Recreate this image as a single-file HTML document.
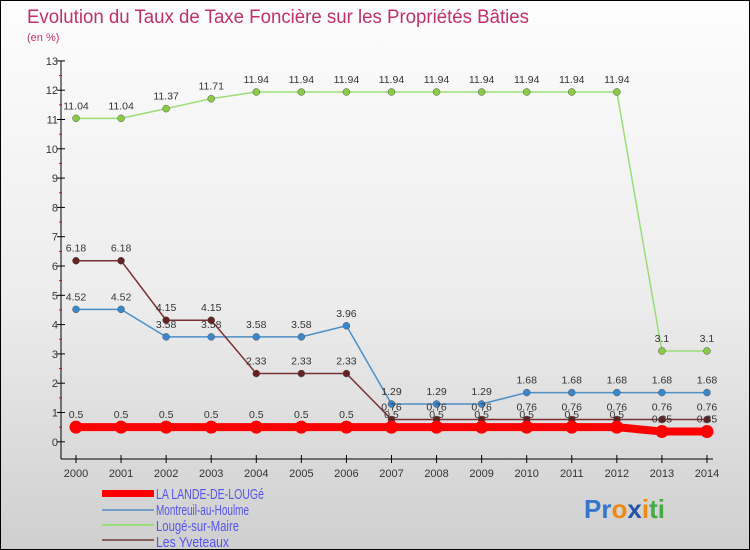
<!DOCTYPE html>
<html><head><meta charset="utf-8"><style>
body{margin:0}
#c{width:748px;height:548px;border:1px solid #000;background:linear-gradient(#fdfdfd 0%,#ececec 55%,#cfcfcf 100%);position:relative;font-family:"Liberation Sans",sans-serif;overflow:hidden}
</style></head><body>
<div id="c">
<svg width="748" height="548" id="svg">
<text x="26" y="22" font-size="19" fill="#c0306a" textLength="502" lengthAdjust="spacingAndGlyphs">Evolution du Taux de Taxe Foncière sur les Propriétés Bâties</text>
<text x="26" y="40" font-size="11" fill="#c0306a">(en %)</text>
<g id="g"></g>
<g>
<rect x="101" y="489" width="52" height="7" fill="#f00"/>
<text x="155" y="498" font-size="15" fill="#5555ee" textLength="108" lengthAdjust="spacingAndGlyphs">LA LANDE-DE-LOUGé</text>
<rect x="101" y="508" width="52" height="2" fill="#6fa0cc"/>
<text x="155" y="514" font-size="15" fill="#5555ee" textLength="93" lengthAdjust="spacingAndGlyphs">Montreuil-au-Houlme</text>
<rect x="101" y="523" width="52" height="2" fill="#99dd77"/>
<text x="155" y="530" font-size="15" fill="#5555ee" textLength="83" lengthAdjust="spacingAndGlyphs">Lougé-sur-Maire</text>
<rect x="101" y="538" width="52" height="2" fill="#8a6060"/>
<text x="155" y="546" font-size="15" fill="#5555ee" textLength="73" lengthAdjust="spacingAndGlyphs">Les Yveteaux</text>
</g>
<text x="583" y="517" font-size="26" font-weight="bold"><tspan fill="#3377cc">Pr</tspan><tspan fill="#ee8811">o</tspan><tspan fill="#2255aa">x</tspan><tspan fill="#ee8811">i</tspan><tspan fill="#44aa44">ti</tspan></text>
</svg>
</div>
<script>
const years=[2000,2001,2002,2003,2004,2005,2006,2007,2008,2009,2010,2011,2012,2013,2014];
const lande=[0.5,0.5,0.5,0.5,0.5,0.5,0.5,0.5,0.5,0.5,0.5,0.5,0.5,0.35,0.35];
const montreuil=[4.52,4.52,3.58,3.58,3.58,3.58,3.96,1.29,1.29,1.29,1.68,1.68,1.68,1.68,1.68];
const louge=[11.04,11.04,11.37,11.71,11.94,11.94,11.94,11.94,11.94,11.94,11.94,11.94,11.94,3.1,3.1];
const yveteaux=[6.18,6.18,4.15,4.15,2.33,2.33,2.33,0.76,0.76,0.76,0.76,0.76,0.76,0.76,0.76];
const yTicks=[0,1,2,3,4,5,6,7,8,9,10,11,12,13];
const NS="http://www.w3.org/2000/svg";
const g=document.getElementById('g');
const x=i=>75+i*45.07;
const y=v=>440.8-v*29.3;
function mk(t,a){const e=document.createElementNS(NS,t);for(const k in a)e.setAttribute(k,a[k]);g.appendChild(e);return e;}
let e=mk('line',{x1:60,y1:60,x2:60,y2:458,stroke:'#000'});


e=mk('line',{x1:60,y1:458,x2:712,y2:458,stroke:'#000'});


yTicks.forEach(v=>{
 const t=mk('line',{x1:56,y1:y(v),x2:64,y2:y(v),stroke:'#000'});
 
 
 const l=mk('text',{x:57,y:y(v)+4,'font-size':11,'text-anchor':'end',fill:'#333'});
 l.textContent=v;
 
 
 if(v<13){const m=mk('line',{x1:58,y1:y(v+0.5),x2:61,y2:y(v+0.5),stroke:'#e00'});
 
 }
});
years.forEach((yr,i)=>{
 const t=mk('line',{x1:x(i),y1:454,x2:x(i),y2:462,stroke:'#000'});
 
 
 const l=mk('text',{x:x(i),y:476,'font-size':11,'text-anchor':'middle',fill:'#333'});
 l.textContent=yr;
 
 
});
function series(vals,color,lw,r,fill,name,dy){
 const p=mk('polyline',{points:vals.map((v,i)=>x(i)+','+y(v)).join(' '),fill:'none',stroke:color,'stroke-width':lw});
 
 
 vals.forEach((v,i)=>{
  const c=mk('circle',{cx:x(i),cy:y(v),r:r,fill:fill,stroke:color==='#f00'?'none':'#555','stroke-width':0.5});
  
  
  const t=mk('text',{x:x(i),y:y(v)+dy,'font-size':10.5,'text-anchor':'middle',fill:'#333'});
  t.textContent=v;
  
  
 });
}
series(louge,'#99dd77',1.5,3.5,'#88cc44','louge',-9);
series(montreuil,'#4a90c8',1.5,3.5,'#3a88cc','montreuil',-9);
series(yveteaux,'#7a3030',1.5,3.5,'#662222','yveteaux',-9);
series(lande,'#f00',8,6.5,'#f00','lande',-9);
</script>
</body></html>
